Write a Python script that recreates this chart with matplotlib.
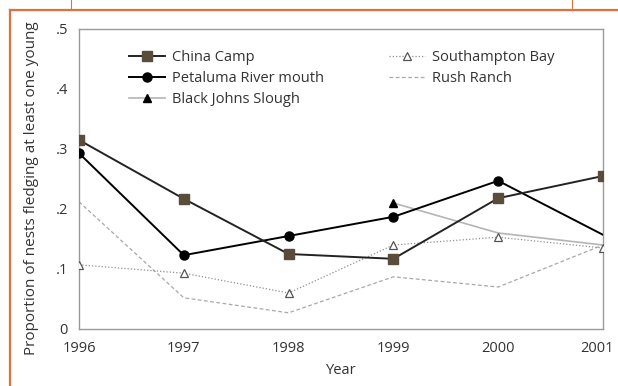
import matplotlib
matplotlib.use("Agg")
import matplotlib.pyplot as plt
import matplotlib.transforms as mtransforms
import numpy as np
from matplotlib.lines import Line2D

plt.rcParams['font.family'] = ['Open Sans', 'DejaVu Sans']

# Data
years = [1996, 1997, 1998, 1999, 2000, 2001]
china_camp = [0.315, 0.217, 0.125, 0.117, 0.218, 0.255]
petaluma = [0.293, 0.123, 0.155, 0.187, 0.247, 0.157]
black_johns = [np.nan, np.nan, np.nan, 0.210, 0.160, 0.140]
southampton = [0.107, 0.093, 0.060, 0.140, 0.153, 0.135]
rush_ranch = [0.212, 0.052, 0.027, 0.087, 0.070, 0.140]

yticks = [0.0, 0.1, 0.2, 0.3, 0.4, 0.5]
ytick_labels = ["0", ".1", ".2", ".3", ".4", ".5"]

ORANGE = '#e0703f'
SPINE = '#9a9a9a'
TXT = '#333333'

fig = plt.figure(figsize=(6.18, 3.86), dpi=100)
ax = fig.add_axes([79/618, 1-329/386, (603-79)/618, (329-29)/386])

# page frame lines
fig.add_artist(Line2D([10/618, 1.0], [1-9.5/386, 1-9.5/386], color=ORANGE, lw=1.6, transform=fig.transFigure))
fig.add_artist(Line2D([10/618, 10/618], [0.0, 1-9.5/386], color=ORANGE, lw=1.6, transform=fig.transFigure))
fig.add_artist(Line2D([70.5/618, 70.5/618], [1-9.5/386, 1.0], color=ORANGE, lw=0.8, transform=fig.transFigure))
fig.add_artist(Line2D([571.5/618, 571.5/618], [1-9.5/386, 1.0], color=ORANGE, lw=0.8, transform=fig.transFigure))

# series
ax.plot(years, rush_ranch, color='#a8a8a8', lw=0.9, ls=(0, (3, 2)), label='Rush Ranch', zorder=2)
ax.plot(years, black_johns, color='#b5b5b5', lw=1.2, marker='^', ms=6, mfc='black', mec='black',
        markevery=[3], label='Black Johns Slough', zorder=3)
ax.plot(years, southampton, color='#8f8f8f', lw=0.9, ls=(0, (1, 1.6)), marker='^', ms=6,
        mfc='white', mec='#555555', mew=0.9, label='Southampton Bay', zorder=4)
ax.plot(years, petaluma, color='black', lw=1.4, marker='o', ms=6.5, mfc='black', mec='black',
        markevery=[0, 1, 2, 3, 4], label='Petaluma River mouth', zorder=5)
ax.plot(years, china_camp, color='#222222', lw=1.4, marker='s', ms=6.5, mfc='#5a4c3a', mec='#5a4c3a',
        label='China Camp', zorder=6)

ax.set_xlim(1996, 2001)
ax.set_ylim(0, 0.5)
ax.set_xticks(years)
ax.set_xticklabels([str(y) for y in years], fontsize=10.5, color=TXT)
ax.set_yticks(yticks)
ax.set_yticklabels(ytick_labels, fontsize=10.5, color=TXT)
ax.tick_params(axis='x', length=0, pad=9)
ax.tick_params(axis='y', length=0, pad=8)
for s in ax.spines.values():
    s.set_color(SPINE)
    s.set_linewidth(1.0)

# last year label sits at the right edge; nudge it inward so it stays on the page
last = ax.get_xticklabels()[-1]
last.set_transform(last.get_transform() + mtransforms.ScaledTranslation(-4/72, 0, fig.dpi_scale_trans))

ax.set_xlabel('Year', fontsize=10.5, color=TXT, labelpad=5)
ax.set_ylabel('Proportion of nests fledging at least one young', fontsize=11, color=TXT)
ax.yaxis.set_label_coords(-0.076, 0.47)

handles, labels = ax.get_legend_handles_labels()
order = ['China Camp', 'Petaluma River mouth', 'Black Johns Slough', 'Southampton Bay', 'Rush Ranch']
hs = [handles[labels.index(o)] for o in order]
leg = ax.legend(hs, order, ncol=2, loc='upper left', bbox_to_anchor=(0.07, 0.975), frameon=False,
                fontsize=10.5, handlelength=2.5, handletextpad=0.45, columnspacing=4.45,
                labelspacing=0.42)
for t in leg.get_texts():
    t.set_color(TXT)

fig.savefig('out.png', dpi=100)
